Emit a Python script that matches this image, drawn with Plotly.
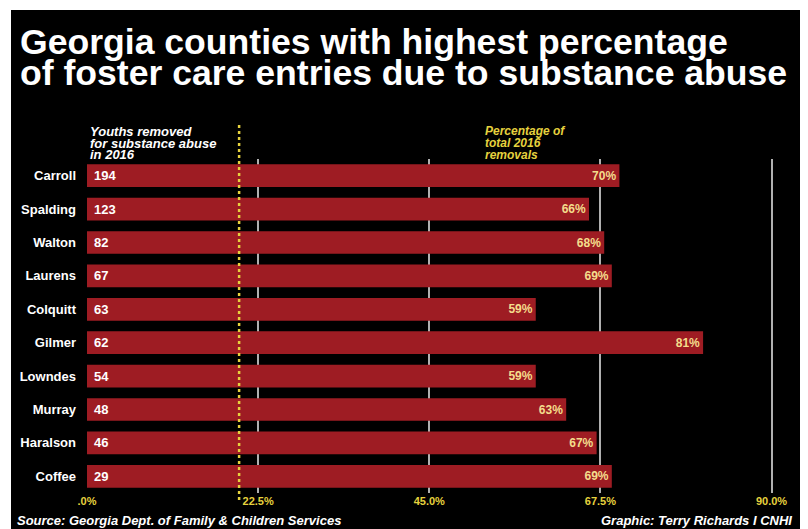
import plotly.graph_objects as go

counties = ["Carroll", "Spalding", "Walton", "Laurens", "Colquitt",
            "Gilmer", "Lowndes", "Murray", "Haralson", "Coffee"]
youths_removed = [194, 123, 82, 67, 63, 62, 54, 48, 46, 29]
pct_removals = [70, 66, 68, 69, 59, 81, 59, 63, 67, 69]
tick_vals = [0, 22.5, 45, 67.5, 90]
tick_text = [".0%", "22.5%", "45.0%", "67.5%", "90.0%"]
marker_line_value = 20

# The page body has an 8px margin; the figure is sized/shifted to compensate.
OFF = 8
W, H = 808 - OFF, 529 - OFF
ML, MR, MT, MB = 87 - OFF, 6, 159 - OFF, 36
PW, PH = W - ML - MR, H - MT - MB


def px(x):  # page pixel -> paper
    return (x - OFF - ML) / PW


def py(y):
    return (H - MB - (y - OFF)) / PH


FONT = "Liberation Sans, Arial, Helvetica, sans-serif"
RED = "#9e1c23"
YELLOW = "#e6d23e"
PALE = "#f4dc8c"

fig = go.Figure()
fig.add_trace(go.Bar(
    y=counties, x=pct_removals, orientation="h",
    marker=dict(color=RED, line=dict(width=0)),
    width=0.68,
    text=[f"<b>{v}%</b>" for v in pct_removals],
    textposition="inside", insidetextanchor="end",
    textfont=dict(family=FONT, size=12, color=PALE),
    textangle=0, cliponaxis=False, hoverinfo="skip",
))

annotations = []
for c, n in zip(counties, youths_removed):
    annotations.append(dict(
        x=0, y=c, xref="x", yref="y", text=f"<b>{n}</b>",
        showarrow=False, xanchor="left", xshift=5,
        font=dict(family=FONT, size=13, color="white")))

# Title lines
for txt, yy in [("Georgia counties with highest percentage", 42),
                ("of foster care entries due to substance abuse", 73)]:
    annotations.append(dict(
        x=px(18), y=py(yy), xref="paper", yref="paper", text=f"<b>{txt}</b>",
        showarrow=False, xanchor="left", yanchor="middle",
        font=dict(family=FONT, size=35.6, color="white")))

# Column headers
for txt, yy in [("Youths removed", 131), ("for substance abuse", 143), ("in 2016", 155)]:
    annotations.append(dict(
        x=px(88), y=py(yy), xref="paper", yref="paper", text=f"<b><i>{txt}</i></b>",
        showarrow=False, xanchor="left", yanchor="middle",
        font=dict(family=FONT, size=13, color="white")))
for txt, yy in [("Percentage of", 131), ("total 2016", 143), ("removals", 155)]:
    annotations.append(dict(
        x=px(483), y=py(yy), xref="paper", yref="paper", text=f"<b><i>{txt}</i></b>",
        showarrow=False, xanchor="left", yanchor="middle",
        font=dict(family=FONT, size=12, color=YELLOW)))

# Footer
annotations.append(dict(
    x=px(15), y=py(520), xref="paper", yref="paper",
    text="<b><i>Source: Georgia Dept. of Family & Children Services</i></b>",
    showarrow=False, xanchor="left", yanchor="middle",
    font=dict(family=FONT, size=13, color="white")))
annotations.append(dict(
    x=px(794), y=py(520), xref="paper", yref="paper",
    text="<b><i>Graphic: Terry Richards I CNHI</i></b>",
    showarrow=False, xanchor="right", yanchor="middle",
    font=dict(family=FONT, size=13, color="white")))

shapes = [
    dict(type="rect", xref="paper", yref="paper", layer="below",
         x0=px(11), x1=px(802), y0=py(H + OFF + 5), y1=py(10),
         fillcolor="black", line=dict(width=0)),
    dict(type="line", xref="x", yref="paper", layer="above",
         x0=marker_line_value, x1=marker_line_value, y0=py(500), y1=py(124),
         line=dict(color=YELLOW, width=2.5, dash="dot")),
]

fig.update_layout(
    width=W, height=H,
    margin=dict(l=ML, r=MR, t=MT, b=MB, pad=0),
    paper_bgcolor="white", plot_bgcolor="rgba(0,0,0,0)",
    showlegend=False,
    annotations=annotations, shapes=shapes,
    xaxis=dict(range=[0, PW / 7.606], tickvals=tick_vals,
               ticktext=[f"<b>{t}</b>" for t in tick_text],
               showgrid=True, gridcolor="#b0b0b0", gridwidth=1.5,
               zeroline=False, showline=False, ticks="",
               tickfont=dict(family=FONT, size=11, color=YELLOW),
               fixedrange=True),
    yaxis=dict(categoryorder="array", categoryarray=counties,
               autorange="reversed", showgrid=False, zeroline=False,
               showline=False, ticks="", ticklabelstandoff=10,
               tickvals=counties, ticktext=[f"<b>{c}</b>" for c in counties],
               tickfont=dict(family=FONT, size=13, color="white"),
               fixedrange=True),
)

fig.write_html("out.html")
